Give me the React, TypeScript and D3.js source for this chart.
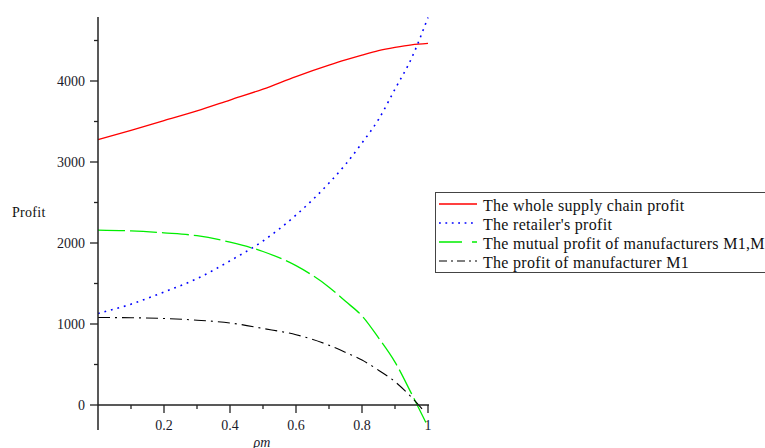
import React from "react";
import * as d3 from "d3";

const pm = [0, 0.1, 0.2, 0.3, 0.4, 0.5, 0.6, 0.7, 0.75, 0.8, 0.85, 0.9, 0.95, 1.0];
const wholeChain = [3275, 3390, 3510, 3630, 3765, 3900, 4055, 4195, 4260, 4320, 4375, 4415, 4447, 4465];
const retailer = [1130, 1245, 1395, 1560, 1780, 2025, 2345, 2740, 2970, 3235, 3525, 3900, 4280, 4785];
const mutualM1M2 = [2160, 2150, 2125, 2090, 2010, 1895, 1720, 1455, 1280, 1100, 830, 530, 140, -270];
const pmM1 = [0, 0.1, 0.2, 0.3, 0.4, 0.5, 0.6, 0.7, 0.75, 0.8, 0.85, 0.9, 0.95, 0.99];
const profitM1 = [1080, 1077, 1068, 1047, 1013, 945, 868, 738, 650, 555, 430, 288, 95, -85];

const yMajor = [0, 1000, 2000, 3000, 4000];
const yMinor = [500, 1500, 2500, 3500, 4500];
const xMajor = [0.2, 0.4, 0.6, 0.8, 1];
const xMinor = [0.1, 0.3, 0.5, 0.7, 0.9];
const xTickLabels = ["0.2", "0.4", "0.6", "0.8", "1"];

const legendLabels = [
  "The whole supply chain profit",
  "The retailer's profit",
  "The mutual profit of manufacturers M1,M2",
  "The profit of manufacturer M1",
];

const FONT = "'Liberation Serif', 'Times New Roman', serif";

export default function App() {
  const x = d3.scaleLinear().domain([0, 1]).range([98, 428]);
  const y = d3.scaleLinear().domain([0, 4000]).range([405, 81]);
  const yTop = y.invert(17);
  const yBot = y.invert(430);

  const mk = (xs: number[], ys: number[]) =>
    d3
      .line<number>()
      .x((_, i) => x(xs[i]))
      .y((d) => y(d))
      .curve(d3.curveMonotoneX)(ys) || "";

  const series = [
    { d: mk(pm, wholeChain), color: "#ff0000", dash: "none", w: 1.3 },
    { d: mk(pm, retailer), color: "#0000ff", dash: "1.8 4.9", w: 1.6 },
    { d: mk(pm, mutualM1M2), color: "#00ee00", dash: "27 5", w: 1.3 },
    { d: mk(pmM1, profitM1), color: "#000000", dash: "12 5 2 5", w: 1.1 },
  ];
  const legendDash = ["none", "1.8 4.6", "23 10", "8 4 2 4"];
  const ax = x(0);
  const ay = y(0);

  return (
    <div style={{ position: "absolute", left: 0, top: 0, width: 765, height: 448, overflow: "hidden", background: "#fff" }}>
      <svg width={765} height={448} style={{ display: "block" }} fontFamily={FONT}>
        <rect x={0} y={0} width={765} height={448} fill="#fff" />
        {/* curves */}
        {series.map((s, i) => (
          <path key={i} d={s.d} fill="none" stroke={s.color} strokeWidth={s.w} strokeDasharray={s.dash} />
        ))}
        {/* axes */}
        <line x1={ax} x2={ax} y1={y(yTop)} y2={y(yBot)} stroke="#222" strokeWidth={1.5} />
        <line x1={ax} x2={x(1) + 1} y1={ay} y2={ay} stroke="#222" strokeWidth={1.5} />
        {yMajor.map((v) => (
          <g key={"ym" + v}>
            <line x1={ax - 8} x2={ax} y1={y(v)} y2={y(v)} stroke="#222" strokeWidth={1.3} />
            <text x={ax - 13} y={y(v) + 5} fontSize={14} textAnchor="end" fill="#1a1a2a">
              {v}
            </text>
          </g>
        ))}
        {yMinor.map((v) => (
          <line key={"yn" + v} x1={ax - 4} x2={ax} y1={y(v)} y2={y(v)} stroke="#222" strokeWidth={1.3} />
        ))}
        {xMajor.map((v, i) => (
          <g key={"xm" + v}>
            <line x1={x(v)} x2={x(v)} y1={ay} y2={ay + 8} stroke="#222" strokeWidth={1.3} />
            <text x={x(v)} y={ay + 24.5} fontSize={14} textAnchor="middle" fill="#1a1a2a">
              {xTickLabels[i]}
            </text>
          </g>
        ))}
        {xMinor.map((v) => (
          <line key={"xn" + v} x1={x(v)} x2={x(v)} y1={ay} y2={ay + 4} stroke="#222" strokeWidth={1.3} />
        ))}
        {/* axis labels */}
        <text x={12} y={216.5} fontSize={14} fill="#111" letterSpacing={0.3}>
          Profit
        </text>
        <text x={262} y={447} fontSize={14} fontStyle="italic" textAnchor="middle" fill="#1a1a2a">
          ρm
        </text>
        {/* legend */}
        <rect x={435.5} y={192.5} width={400} height={80} fill="#fff" stroke="#444" strokeWidth={1} />
        {legendLabels.map((lab, i) => {
          const ly = 204 + i * 19;
          return (
            <g key={"lg" + i}>
              <line x1={439} x2={477} y1={ly} y2={ly} stroke={series[i].color} strokeWidth={series[i].w} strokeDasharray={legendDash[i]} />
              <text x={483} y={ly + 6.5} fontSize={16} fill="#111" letterSpacing={0.3}>
                {lab}
              </text>
            </g>
          );
        })}
      </svg>
    </div>
  );
}
